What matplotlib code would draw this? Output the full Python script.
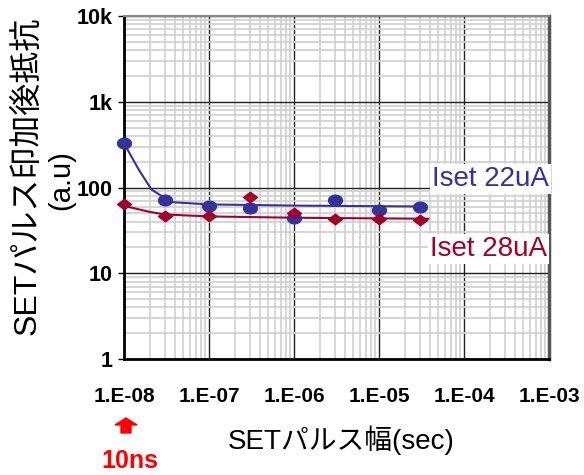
import numpy as np
import matplotlib
matplotlib.use("Agg")
import matplotlib.pyplot as plt
from matplotlib.path import Path
from matplotlib.ticker import LogLocator, FixedLocator, FixedFormatter, NullFormatter
from matplotlib.patches import FancyArrow

plt.rcParams['font.family'] = ['Liberation Sans', 'Noto Sans CJK JP', 'DejaVu Sans']

# Pulse width (s)
pulse_width = [1e-8, 3e-8, 1e-7, 3e-7, 1e-6, 3e-6, 1e-5, 3e-5]
# Resistance after SET pulse (a.u)
r_22uA = [327, 71, 61, 58, 44, 71, 54, 60]
r_28uA = [65, 46, 46, 78, 51, 42.5, 42.5, 42]

# Trend curves
trend22_x = [1e-8, 1.5e-8, 2.1e-8, 3.6e-8, 1e-7, 1e-6, 3.4e-5]
trend22_y = [327, 160, 95, 67.5, 63.5, 61.5, 60]
trend28_x = [1e-8, 2e-8, 3e-8, 1e-7, 1e-6, 3.8e-5]
trend28_y = [61, 52, 48.5, 46, 44.4, 43.2]

xtick_vals = [1e-8, 1e-7, 1e-6, 1e-5, 1e-4, 1e-3]
xtick_labels = ['1.E-08', '1.E-07', '1.E-06', '1.E-05', '1.E-04', '1.E-03']
ytick_vals = [1, 10, 100, 1000, 10000]
ytick_labels = ['1', '10', '100', '1k', '10k']

BLUE = '#343399'
RED = '#A3002B'

# flattened markers
t = np.linspace(0, 2 * np.pi, 40)
ellipse = Path(np.column_stack([1.3 * np.cos(t), np.sin(t)]), closed=True)
diamond = Path([(0, 1), (1.3, 0), (0, -1), (-1.3, 0), (0, 1)], closed=True)

fig = plt.figure(figsize=(5.84, 4.75), dpi=100)
ax = fig.add_axes([124 / 584, 1 - 359 / 475, 425 / 584, 343 / 475])
ax.set_xscale('log')
ax.set_yscale('log')
ax.set_xlim(1e-8, 1e-3)
ax.set_ylim(1, 10000)

ax.xaxis.set_minor_locator(LogLocator(base=10, subs=np.arange(2, 10)))
ax.yaxis.set_minor_locator(LogLocator(base=10, subs=np.arange(2, 10)))
ax.xaxis.set_minor_formatter(NullFormatter())
ax.yaxis.set_minor_formatter(NullFormatter())
ax.xaxis.set_major_locator(FixedLocator(xtick_vals))
ax.xaxis.set_major_formatter(FixedFormatter(xtick_labels))
ax.yaxis.set_major_locator(FixedLocator(ytick_vals))
ax.yaxis.set_major_formatter(FixedFormatter(ytick_labels))

ax.grid(which='minor', color='#D2D2D2', linewidth=1.3)
ax.grid(which='major', color='#222222', linewidth=1.0)
ax.set_axisbelow(True)

ax.tick_params(axis='x', which='major', length=0, pad=20, labelsize=15)
ax.tick_params(axis='y', which='major', length=4, width=1, pad=4, labelsize=15.5)
ax.tick_params(which='minor', length=0)
for lab in ax.get_xticklabels() + ax.get_yticklabels():
    lab.set_fontweight('bold')

ax.spines['left'].set_color('black')
ax.spines['left'].set_linewidth(2)
ax.spines['bottom'].set_color('black')
ax.spines['bottom'].set_linewidth(2)
ax.spines['top'].set_color('#888888')
ax.spines['top'].set_linewidth(1.5)
ax.spines['right'].set_color('#555555')
ax.spines['right'].set_linewidth(2.5)

ax.plot(trend22_x, trend22_y, color=BLUE, linewidth=1.5, zorder=3)
ax.plot(trend28_x, trend28_y, color=RED, linewidth=1.5, zorder=3)
ax.plot(pulse_width, r_22uA, linestyle='none', marker=ellipse, markersize=10,
        color=BLUE, zorder=4, clip_on=False)
ax.plot(pulse_width, r_28uA, linestyle='none', marker=diamond, markersize=10,
        color=RED, zorder=5, clip_on=False)

txt_box = dict(facecolor='white', edgecolor='none', pad=1.5)
fig.text(432 / 584, 1 - 179 / 475, 'Iset 22uA', color=BLUE, fontsize=20,
         ha='left', va='center', bbox=txt_box, zorder=10)
fig.text(430 / 584, 1 - 249 / 475, 'Iset 28uA', color=RED, fontsize=20,
         ha='left', va='center', bbox=txt_box, zorder=10)

fig.text(27 / 584, 1 - 176 / 475, 'SETパルス印加後抵抗', rotation=90,
         fontsize=23, ha='center', va='center')
fig.text(61 / 584, 1 - 180 / 475, '(a.u)', rotation=90,
         fontsize=21, ha='center', va='center')
fig.text(341 / 584, 1 - 440 / 475, 'SETパルス幅(sec)', fontsize=20,
         ha='center', va='center')

# 10 ns marker
fig.patches.append(FancyArrow(126 / 584, 1 - 433 / 475, 0, 15 / 475,
                              width=10 / 584, head_width=22 / 584,
                              head_length=7 / 475, length_includes_head=True,
                              color='#FF0000', transform=fig.transFigure,
                              figure=fig))
fig.text(130 / 584, 1 - 461 / 475, '10ns', color='#FF0000', fontsize=18,
         fontweight='bold', ha='center', va='center')

fig.savefig('out.png', dpi=100)
